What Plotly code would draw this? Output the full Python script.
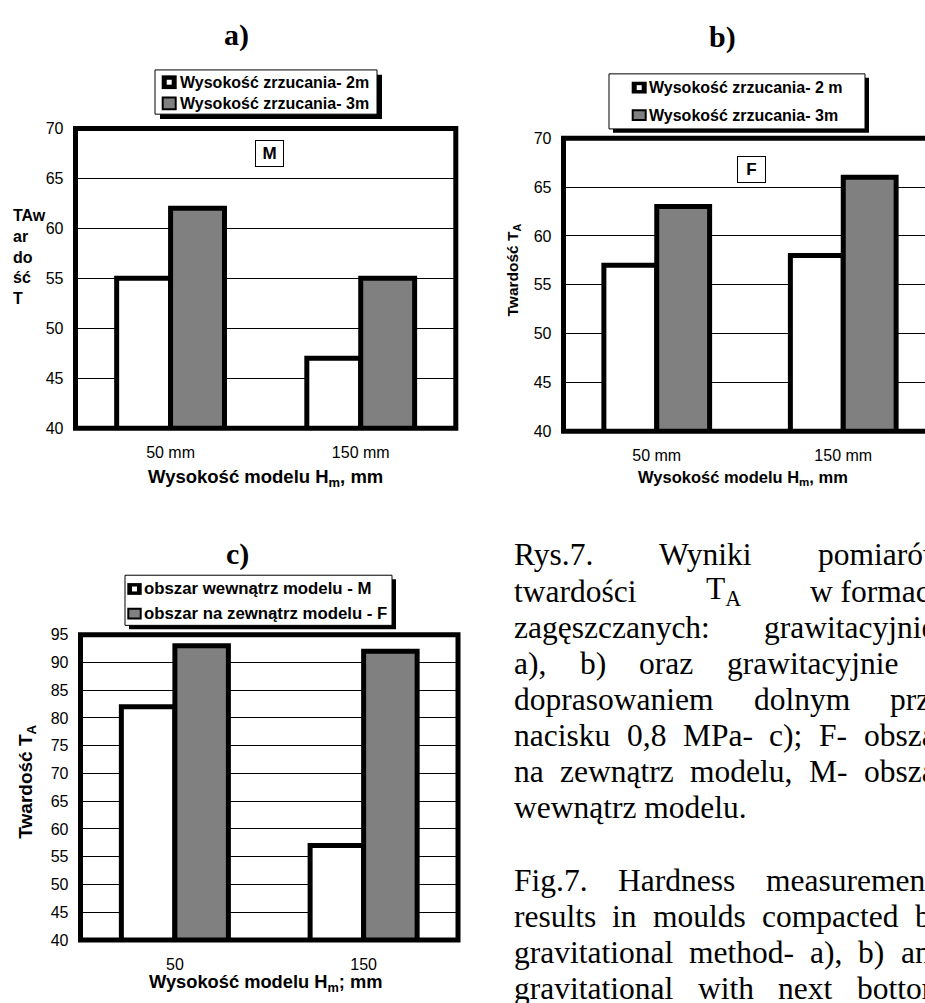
import plotly.graph_objects as go

W, H = 925, 1003

# ---------------- data ----------------
cats_ab = ["50 mm", "150 mm"]
cats_c = ["50", "150"]
a_2m = [55, 47]
a_3m = [62, 55]
b_2m = [57, 58]
b_3m = [63, 66]
c_M = [82, 57]
c_F = [93, 92]

legend_a = ["Wysokość zrzucania- 2m", "Wysokość zrzucania- 3m"]
legend_b = ["Wysokość zrzucania- 2 m", "Wysokość zrzucania- 3m"]
legend_c = ["obszar wewnątrz modelu - M", "obszar na zewnątrz modelu - F"]

caption = [
    (["Rys.7.", "Wyniki", "pomiarów"], True),
    (["twardości", "T<sub>A</sub>", "w formach"], True),
    (["zagęszczanych:", "grawitacyjnie-"], True),
    (["a),", "b)", "oraz", "grawitacyjnie", "z"], True),
    (["doprasowaniem", "dolnym", "przy"], True),
    (["nacisku", "0,8", "MPa-", "c);", "F-", "obszar"], True),
    (["na", "zewnątrz", "modelu,", "M-", "obszar"], True),
    (["wewnątrz modelu."], False),
    ([], False),
    (["Fig.7.", "Hardness", "measurements"], True),
    (["results", "in", "moulds", "compacted", "by"], True),
    (["gravitational", "method-", "a),", "b)", "and"], True),
    (["gravitational", "with", "next", "bottom"], True),
]

SANS = "Arial, Liberation Sans, sans-serif"
SERIF = "Times New Roman, Liberation Serif, serif"
GRAY = "#808080"


def px(x):
    return x / W


def py(y):
    return 1 - y / H


fig = go.Figure()

bar_line = dict(color="black", width=5)
# a)
fig.add_trace(go.Bar(x=cats_ab, y=a_2m, name=legend_a[0], marker=dict(color="white", line=bar_line),
                     xaxis="x", yaxis="y", showlegend=False))
fig.add_trace(go.Bar(x=cats_ab, y=a_3m, name=legend_a[1], marker=dict(color=GRAY, line=bar_line),
                     xaxis="x", yaxis="y", showlegend=False))
# b)
fig.add_trace(go.Bar(x=cats_ab, y=b_2m, name=legend_b[0], marker=dict(color="white", line=bar_line),
                     xaxis="x2", yaxis="y2", showlegend=False))
fig.add_trace(go.Bar(x=cats_ab, y=b_3m, name=legend_b[1], marker=dict(color=GRAY, line=bar_line),
                     xaxis="x2", yaxis="y2", showlegend=False))
# c)
fig.add_trace(go.Bar(x=cats_c, y=c_M, name=legend_c[0], marker=dict(color="white", line=bar_line),
                     xaxis="x3", yaxis="y3", showlegend=False))
fig.add_trace(go.Bar(x=cats_c, y=c_F, name=legend_c[1], marker=dict(color=GRAY, line=bar_line),
                     xaxis="x3", yaxis="y3", showlegend=False))

tickfont = dict(family=SANS, size=16, color="black")


def xax(domain, anchor, rng):
    return dict(domain=domain, anchor=anchor, type="category", range=rng, showgrid=False,
                showline=False, zeroline=False, ticks="", tickfont=tickfont, ticklabelstandoff=13)


def yax(domain, anchor, rng):
    return dict(domain=domain, anchor=anchor, range=rng, tick0=40, dtick=5, showgrid=True,
                gridcolor="black", gridwidth=1, showline=False, zeroline=False, ticks="",
                tickfont=tickfont, ticklabelstandoff=11)


b_left = 563.5
b_slot = 186.5
fig.update_layout(
    xaxis=xax([px(75.5), px(455.8)], "y", [-0.5, 1.5]),
    yaxis=yax([py(427.5), py(122.5)], "x", [40, 70]),
    xaxis2=xax([px(b_left), 1.0], "y2", [-0.5, -0.5 + (W - b_left) / b_slot]),
    yaxis2=yax([py(430.5), py(132.5)], "x2", [40, 70]),
    xaxis3=xax([px(80.5), px(458)], "y3", [-0.5, 1.5]),
    yaxis3=yax([py(948), py(637.5)], "x3", [40, 95]),
    barmode="group",
    bargap=0.433,
    bargroupgap=0,
    width=W,
    height=H,
    margin=dict(l=0, r=0, t=0, b=0),
    paper_bgcolor="white",
    plot_bgcolor="white",
    showlegend=False,
)

shapes = []
# plot borders
for xr, yr, x1 in (("x domain", "y domain", 1), ("x2 domain", "y2 domain", 1.2), ("x3 domain", "y3 domain", 1)):
    shapes.append(dict(type="rect", xref=xr, yref=yr, x0=0, x1=x1, y0=0, y1=1,
                       line=dict(color="black", width=5), layer="above"))

annotations = []


def legend_box(x0, y0, x1, y1, off, rows, mx0, mx1, msz_h, texts, tx, fsize):
    # shadow
    shapes.append(dict(type="rect", xref="paper", yref="paper", x0=px(x0 + off), x1=px(x1 + off),
                       y0=py(y1 + off), y1=py(y0 + off), fillcolor="black", line=dict(width=0), layer="above"))
    shapes.append(dict(type="rect", xref="paper", yref="paper", x0=px(x0), x1=px(x1),
                       y0=py(y1), y1=py(y0), fillcolor="white", line=dict(color="black", width=1), layer="above"))
    for i, cy in enumerate(rows):
        if i == 0:
            shapes.append(dict(type="rect", xref="paper", yref="paper", x0=px(mx0), x1=px(mx1),
                               y0=py(cy + msz_h / 2), y1=py(cy - msz_h / 2), fillcolor="black",
                               line=dict(width=0), layer="above"))
            cx = (mx0 + mx1) / 2
            shapes.append(dict(type="rect", xref="paper", yref="paper", x0=px(cx - 2.5), x1=px(cx + 2.5),
                               y0=py(cy + 2.5), y1=py(cy - 2.5), fillcolor="white",
                               line=dict(width=0), layer="above"))
        else:
            shapes.append(dict(type="rect", xref="paper", yref="paper", x0=px(mx0 + 1), x1=px(mx1 - 1),
                               y0=py(cy + msz_h / 2 - 1), y1=py(cy - msz_h / 2 + 1), fillcolor=GRAY,
                               line=dict(color="black", width=2), layer="above"))
        annotations.append(dict(text="<b>%s</b>" % texts[i], xref="paper", yref="paper", x=px(tx), y=py(cy),
                                xanchor="left", yanchor="middle", showarrow=False, borderpad=0,
                                font=dict(family=SANS, size=fsize, color="black")))


legend_box(155, 63, 377, 108, 5, [75.5, 97], 161.7, 176.7, 14, legend_a, 179, 16)
legend_box(609, 67, 865, 123, 4, [81, 109], 631.7, 646.7, 12, legend_b, 648, 16)
legend_box(125, 577, 392, 628, 4, [591, 616], 127.3, 141.7, 12, legend_c, 143, 16.8)


def ann(text, x, y, size, family=SANS, xanchor="center", yanchor="middle", **kw):
    d = dict(text=text, xref="paper", yref="paper", x=px(x), y=py(y), xanchor=xanchor, yanchor=yanchor,
             showarrow=False, borderpad=0, font=dict(family=family, size=size, color="black"))
    d.update(kw)
    annotations.append(d)


# panel titles
ann("<b>a)</b>", 236, 27, 30, SERIF)
ann("<b>b)</b>", 722, 29, 30, SERIF)
ann("<b>c)</b>", 237, 555, 30, SERIF)

# M / F boxes
ann("<b>M</b>", 269.5, 148.5, 17, bordercolor="black", borderwidth=1, bgcolor="white", width=27, height=25)
ann("<b>F</b>", 751.5, 164.5, 17, bordercolor="black", borderwidth=1, bgcolor="white", width=27, height=25)

# x axis titles
ann("<b>Wysokość modelu H<sub>m</sub>, mm</b>", 265.8, 478, 18.5)
ann("<b>Wysokość modelu H<sub>m</sub>, mm</b>", 742.5, 478, 16.5)
ann("<b>Wysokość modelu H<sub>m</sub>; mm</b>", 265.8, 992, 18.3)

# y axis titles
ann("<b>TAw<br>ar<br>do<br>ść<br>T</b>", 12, 253, 16, xanchor="left", align="left")
ann("<b>Twardość T<sub>A</sub></b>", 513, 267, 15.5, textangle=-90)
ann("<b>Twardość T<sub>A</sub></b>", 27, 787, 19, textangle=-90)

# caption (justified text)
TW = {'a': 444, 'b': 500, 'c': 444, 'd': 500, 'e': 444, 'f': 333, 'g': 500, 'h': 500, 'i': 278,
      'j': 278, 'k': 500, 'l': 278, 'm': 778, 'n': 500, 'o': 500, 'p': 500, 'r': 333, 's': 389,
      't': 278, 'u': 500, 'v': 500, 'w': 722, 'x': 500, 'y': 500, 'z': 444, 'A': 722, 'F': 556,
      'H': 722, 'M': 889, 'P': 556, 'R': 667, 'T': 611, 'W': 944, '0': 500, '7': 500, '8': 500,
      '.': 250, ',': 250, ':': 278, ';': 278, ')': 333, '(': 333, '-': 333, ' ': 250,
      'ś': 389, 'ć': 444, 'ę': 444, 'ą': 444, 'ó': 500}
CAP_SIZE = 31.5
CAP_L, CAP_R = 513, 945
CAP_TOP, CAP_LH = 567, 36.75


def word_w(wd):
    total = 0.0
    scale = 1.0
    i = 0
    while i < len(wd):
        if wd.startswith("<sub>", i):
            scale = 0.7
            i += 5
            continue
        if wd.startswith("</sub>", i):
            scale = 1.0
            i += 6
            continue
        total += TW.get(wd[i], 500) * scale
        i += 1
    return total / 1000 * CAP_SIZE


for li, (words, just) in enumerate(caption):
    if not words:
        continue
    base = CAP_TOP + li * CAP_LH
    cy = base - 0.3375 * CAP_SIZE
    widths = [word_w(w) for w in words]
    if just and len(words) > 1:
        gap = (CAP_R - CAP_L - sum(widths)) / (len(words) - 1)
    else:
        gap = 0.25 * CAP_SIZE
    x = CAP_L
    for w, wd in zip(words, widths):
        ann(w, x, cy, CAP_SIZE, SERIF, xanchor="left")
        x += wd + gap

fig.update_layout(shapes=shapes, annotations=annotations)
fig.write_html("out.html")
